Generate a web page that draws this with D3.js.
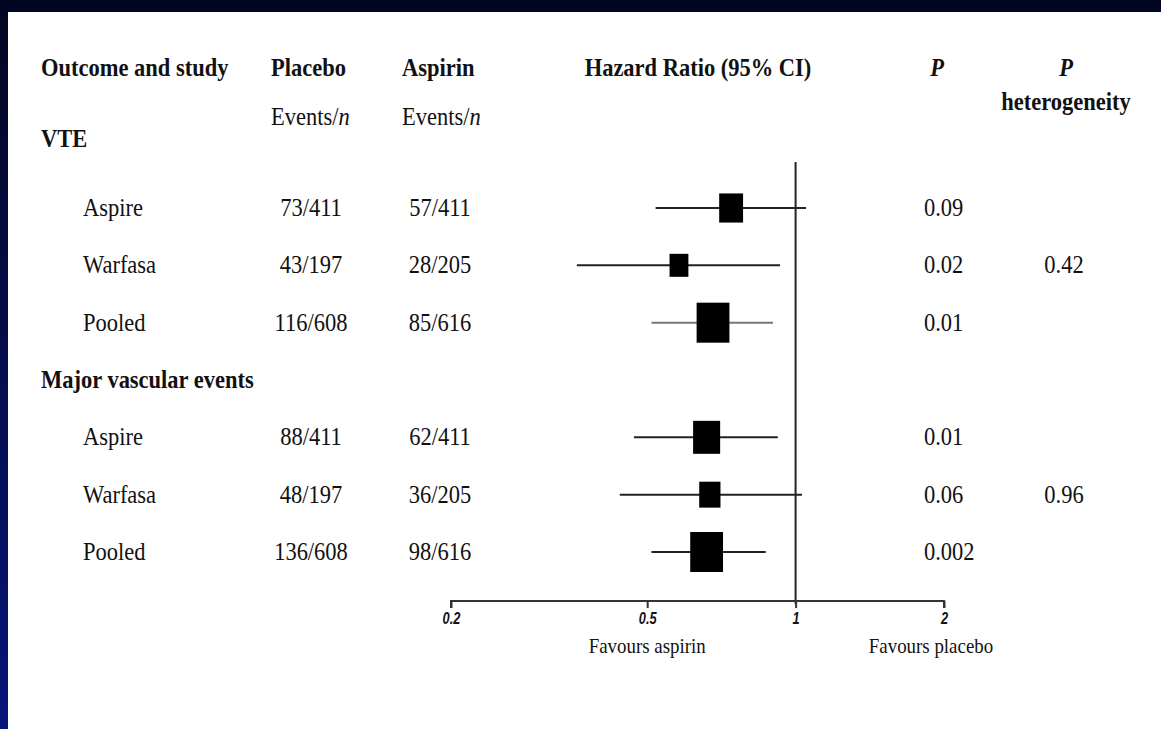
<!DOCTYPE html>
<html>
<head>
<meta charset="utf-8">
<script src="https://cdn.jsdelivr.net/npm/d3@7"></script>
<style>
  html, body { margin: 0; padding: 0; background: #030620; }
  svg { display: block; }
  text { font-family: "Liberation Serif", "Times New Roman", serif; fill: #111; }
</style>
</head>
<body>
<svg id="chart"></svg>
<script>
// data
var studies = ["Aspire", "Warfasa", "Pooled", "Aspire", "Warfasa", "Pooled"];
var outcomes = ["VTE", "Major vascular events"];
var placeboEvents = ["73/411", "43/197", "116/608", "88/411", "48/197", "136/608"];
var aspirinEvents = ["57/411", "28/205", "85/616", "62/411", "36/205", "98/616"];
var hazardRatio = [0.74, 0.58, 0.68, 0.66, 0.67, 0.66];
var ciLower = [0.52, 0.36, 0.51, 0.47, 0.44, 0.51];
var ciUpper = [1.05, 0.93, 0.90, 0.92, 1.03, 0.87];
var weights = [53, 33, 100, 68, 42, 100];
var pValues = ["0.09", "0.02", "0.01", "0.01", "0.06", "0.002"];
var pHeterogeneity = ["0.42", "0.96"];
var tickValues = [0.2, 0.5, 1, 2];

var width = 1161, height = 729;
var sx = 0.9; // the source text is squeezed sideways

var svg = d3.select("#chart")
    .attr("width", width)
    .attr("height", height);

// backdrop: dark slide with white panel
var defs = svg.append("defs");
var grad = defs.append("linearGradient")
    .attr("id", "side")
    .attr("x1", 0).attr("y1", 0).attr("x2", 0).attr("y2", 1);
grad.append("stop").attr("offset", "0%").attr("stop-color", "#030620");
grad.append("stop").attr("offset", "100%").attr("stop-color", "#06157a");

svg.append("rect").attr("width", width).attr("height", height).attr("fill", "url(#side)");
svg.append("rect").attr("width", width).attr("height", 12).attr("fill", "#030620");
svg.append("rect")
    .attr("x", 8).attr("y", 12)
    .attr("width", width - 8).attr("height", height - 12)
    .attr("fill", "#fff");

function label(x, y, str, anchor, size, weight, style) {
    return svg.append("text")
        .attr("transform", "translate(" + x + "," + y + ") scale(" + sx + ",1)")
        .attr("text-anchor", anchor || "start")
        .style("font-size", (size || 25) + "px")
        .style("font-weight", weight || "normal")
        .style("font-style", style || "normal")
        .text(str);
}

// rows: 3 studies, a gap slot for the second heading, 3 studies
var slots = ["r0", "r1", "r2", "gap", "r3", "r4", "r5"];
var y = d3.scalePoint().domain(slots).range([208, 552]);
function rowY(i) { return y("r" + i); }
var headY = [rowY(0) - 1.2 * y.step(), y("gap")];

var x = d3.scaleLog().domain([0.2, 2]).range([451, 944]);
var side = d3.scaleSqrt().domain([0, 100]).range([0, 40]);

// column headers
label(41, 76, "Outcome and study", "start", 25, "bold");
label(271, 76, "Placebo", "start", 25, "bold");
label(402, 76, "Aspirin", "start", 25, "bold");
var ev1 = label(271, 125, "Events/", "start");
ev1.append("tspan").style("font-style", "italic").text("n");
var ev2 = label(402, 125, "Events/", "start");
ev2.append("tspan").style("font-style", "italic").text("n");
label(698, 76, "Hazard Ratio (95% CI)", "middle", 25, "bold");
label(937, 76, "P", "middle", 25, "bold", "italic");
label(1066, 76, "P", "middle", 25, "bold", "italic");
label(1066, 110, "heterogeneity", "middle", 25, "bold");

// outcome headings and heterogeneity values
outcomes.forEach(function(d, g) {
    label(41, headY[g] + 8, d, "start", 25, "bold");
    label(1064, rowY(g * 3 + 1) + 8, pHeterogeneity[g], "middle");
});

// study rows
studies.forEach(function(d, i) {
    var yy = rowY(i) + 8;
    label(83, yy, d, "start");
    label(311, yy, placeboEvents[i], "middle");
    label(440, yy, aspirinEvents[i], "middle");
    label(924, yy, pValues[i], "start");
});

// line of no effect
svg.append("line")
    .attr("x1", x(1)).attr("x2", x(1))
    .attr("y1", 162).attr("y2", 604)
    .attr("stroke", "#222").attr("stroke-width", 2);

// confidence intervals
svg.selectAll(".ci")
    .data(studies)
    .enter().append("line")
    .attr("class", "ci")
    .attr("x1", function(d, i) { return x(ciLower[i]); })
    .attr("x2", function(d, i) { return x(ciUpper[i]); })
    .attr("y1", function(d, i) { return rowY(i); })
    .attr("y2", function(d, i) { return rowY(i); })
    .attr("stroke", function(d, i) { return i == 2 ? "#777" : "#222"; })
    .attr("stroke-width", 2);

// point estimates, sized by weight
svg.selectAll(".box")
    .data(studies)
    .enter().append("rect")
    .attr("class", "box")
    .attr("width", function(d, i) { return side(weights[i]) * 0.82; })
    .attr("height", function(d, i) { return side(weights[i]); })
    .attr("x", function(d, i) { return x(hazardRatio[i]) - side(weights[i]) * 0.41; })
    .attr("y", function(d, i) { return rowY(i) - side(weights[i]) / 2; })
    .attr("fill", "#000");

// axis
var axis = svg.append("g")
    .attr("transform", "translate(0,601)")
    .call(d3.axisBottom(x).tickValues(tickValues).tickSize(7).tickFormat(d3.format("")));
axis.select(".domain")
    .attr("d", "M" + x(0.2) + ",7V0H" + x(2) + "V7")
    .attr("stroke", "#333").attr("stroke-width", 2);
axis.selectAll(".tick line").attr("stroke", "#333").attr("stroke-width", 2);
axis.selectAll(".tick text")
    .attr("y", 0).attr("dy", 0)
    .attr("transform", "translate(0,23) scale(0.8,1)")
    .style("font-family", "'Liberation Sans', Arial, sans-serif")
    .style("font-size", "16px")
    .style("font-weight", "bold")
    .style("font-style", "italic")
    .style("fill", "#111");

label(x(0.5), 653, "Favours aspirin", "middle", 21);
label(x(2) - 13, 653, "Favours placebo", "middle", 21);
</script>
</body>
</html>
